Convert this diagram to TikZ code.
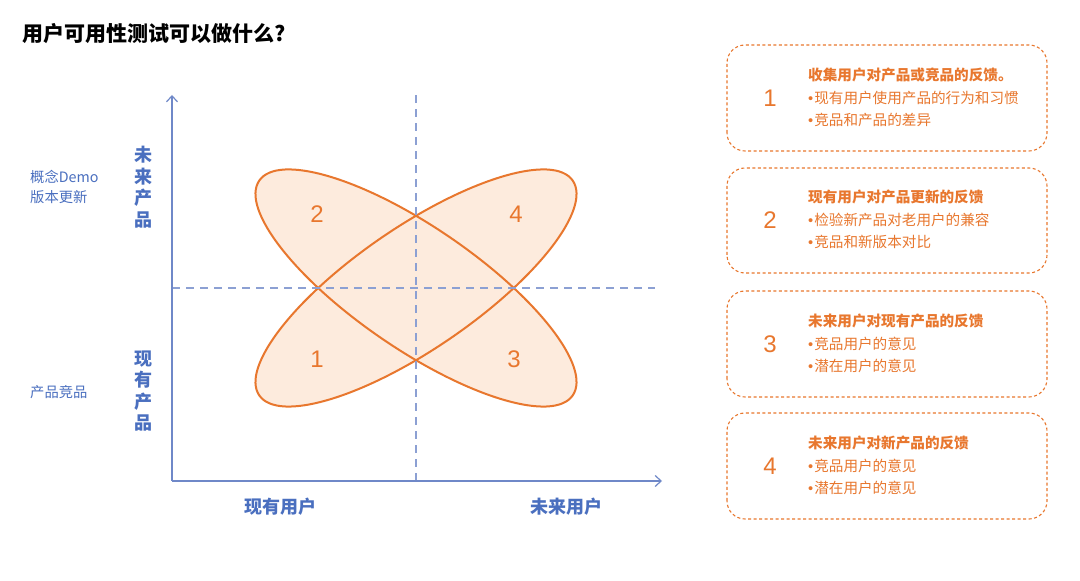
\documentclass[tikz,border=0pt]{standalone}
\usepackage{fontspec}
\setmainfont{Noto Sans CJK SC}
\newfontfamily\latfont{Liberation Sans}
\usetikzlibrary{arrows.meta}
\definecolor{axblue}{HTML}{6F88C8}
\definecolor{txblue}{HTML}{4A6FBF}
\definecolor{org}{HTML}{E8772E}
\definecolor{peach}{HTML}{FDEBDD}
\newcommand{\bul}{{\latfont •}\hspace{1pt}}
\tikzset{
  axis/.style={axblue, line width=1.2pt, -{Straight Barb[length=6pt,width=11pt]}},
  guide/.style={axblue!80, line width=1.1pt, dash pattern=on 8pt off 6pt},
  lobenum/.style={text=org, font=\latfont\fontsize{24}{24}\selectfont},
  vlabel/.style={text=txblue, font=\bfseries\fontsize{18}{21.5}\selectfont, align=center},
  hlabel/.style={text=txblue, font=\bfseries\fontsize{18}{20}\selectfont},
  sidelabel/.style={text=txblue, font=\fontsize{14.3}{20}\selectfont, align=left, anchor=west, inner sep=0pt},
  card/.style={draw=org, line width=1.1pt, dash pattern=on 3pt off 2.5pt, rounded corners=18pt},
  cardnum/.style={text=org, font=\latfont\fontsize{24}{24}\selectfont},
  cardtitle/.style={text=org, font=\bfseries\fontsize{14.6}{16}\selectfont, anchor=west, inner sep=0pt},
  carditem/.style={text=org, font=\fontsize{14.6}{16}\selectfont, anchor=west, inner sep=0pt},
}
\begin{document}
\begin{tikzpicture}[x=1pt,y=1pt]
\useasboundingbox (0,0) rectangle (1080,581);
\fill[white] (0,0) rectangle (1080,581);

% title
\node[anchor=west, inner sep=0pt, font=\bfseries\fontsize{21}{23}\selectfont] (title) at (22,547) {用户可用性测试可以做什么?};

% ellipses
\coordinate (c) at (416,293);
\fill[peach] (c) ellipse[x radius=190, y radius=61, rotate=-34.4];
\fill[peach] (c) ellipse[x radius=190, y radius=61, rotate=34.4];
\draw[org, line width=2pt] (c) ellipse[x radius=190, y radius=61, rotate=-34.4];
\draw[org, line width=2pt] (c) ellipse[x radius=190, y radius=61, rotate=34.4];

% guides
\coordinate (vtop) at (416,486);
\coordinate (vbot) at (416,100);
\coordinate (hl) at (172,293);
\coordinate (hr) at (655,293);
\draw[guide] (vbot) -- (vtop);
\draw[guide] (hl) -- (hr);

% axes
\coordinate (o) at (172,100);
\coordinate (ytip) at (172,486);
\coordinate (xtip) at (662,100);
\draw[axis] (o) -- (ytip);
\draw[axis] (o) -- (xtip);

% lobe numbers
\node[lobenum] (n2) at (317,367) {2};
\node[lobenum] (n4) at (516,367) {4};
\node[lobenum] (n1) at (317,222) {1};
\node[lobenum] (n3) at (514,222) {3};

% axis labels
\node[vlabel] (yf) at (143,394) {未\\来\\产\\品};
\node[vlabel] (yc) at (143,190) {现\\有\\产\\品};
\node[hlabel] (xc) at (280,74) {现有用户};
\node[hlabel] (xf) at (566,74) {未来用户};

\node[sidelabel] (s1) at (30,394) {概念Demo\\版本更新};
\node[sidelabel] (s2) at (30,189) {产品竞品};

% cards
\draw[card] (727,430) rectangle (1047,536);
\draw[card] (727,308) rectangle (1047,413);
\draw[card] (727,184) rectangle (1047,290);
\draw[card] (727,62) rectangle (1047,168);

\node[cardnum] (k1) at (770,483) {1};
\node[cardtitle] (t1) at (808,506) {收集用户对产品或竞品的反馈。};
\node[carditem] (a1) at (808,483) {\bul 现有用户使用产品的行为和习惯};
\node[carditem] (b1) at (808,461) {\bul 竞品和产品的差异};

\node[cardnum] (k2) at (770,361) {2};
\node[cardtitle] (t2) at (808,384) {现有用户对产品更新的反馈};
\node[carditem] (a2) at (808,361) {\bul 检验新产品对老用户的兼容};
\node[carditem] (b2) at (808,339) {\bul 竞品和新版本对比};

\node[cardnum] (k3) at (770,237) {3};
\node[cardtitle] (t3) at (808,260) {未来用户对现有产品的反馈};
\node[carditem] (a3) at (808,237) {\bul 竞品用户的意见};
\node[carditem] (b3) at (808,215) {\bul 潜在用户的意见};

\node[cardnum] (k4) at (770,115) {4};
\node[cardtitle] (t4) at (808,138) {未来用户对新产品的反馈};
\node[carditem] (a4) at (808,115) {\bul 竞品用户的意见};
\node[carditem] (b4) at (808,93) {\bul 潜在用户的意见};
\end{tikzpicture}
\end{document}
